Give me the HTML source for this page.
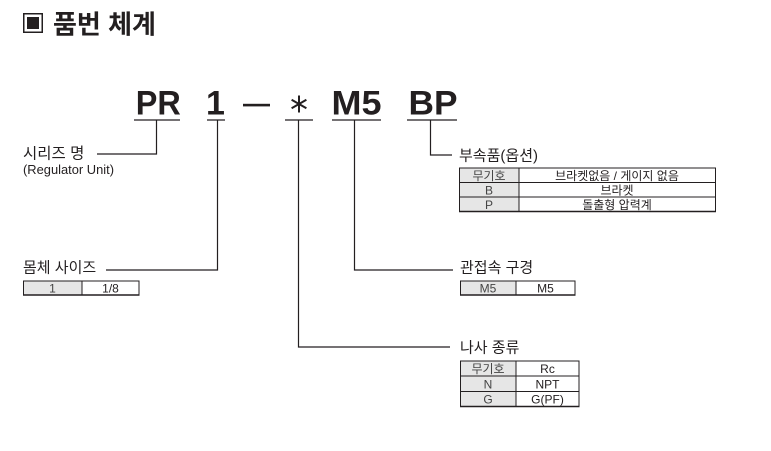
<!DOCTYPE html>
<html><head><meta charset="utf-8">
<style>
html,body{margin:0;padding:0;background:#fff;}
svg{display:block;}
.k{font-family:"Liberation Sans","Noto Sans CJK KR",sans-serif;fill:#231f20;}
.b{font-family:"Liberation Sans",Arial,sans-serif;font-weight:bold;fill:#231f20;font-size:34px;}
.t{font-family:"Liberation Sans","Noto Sans CJK KR",sans-serif;fill:#231f20;font-size:12px;}
.tg{font-family:"Liberation Sans","Noto Sans CJK KR",sans-serif;fill:#444;font-size:12px;}
</style></head>
<body>
<svg width="771" height="451" viewBox="0 0 771 451" xmlns="http://www.w3.org/2000/svg">
<rect width="771" height="451" fill="#fff"/>
<!-- title -->
<rect x="23.75" y="13.75" width="18.5" height="18.5" fill="none" stroke="#231f20" stroke-width="1.5"/>
<rect x="27" y="17" width="12" height="12" fill="#231f20"/>
<text x="53" y="33.5" class="k" style="font-size:26px;font-weight:bold">품번 체계</text>

<!-- big code -->
<text x="158.3" y="114.5" class="b" text-anchor="middle" textLength="45" lengthAdjust="spacingAndGlyphs">PR</text>
<text x="215.5" y="114.5" class="b" text-anchor="middle">1</text>
<rect x="243" y="103.8" width="27" height="2.6" fill="#231f20"/>
<g stroke="#231f20" stroke-width="2" stroke-linecap="butt">
<line x1="299" y1="95.5" x2="299" y2="112.5"/>
<line x1="291.6" y1="99.75" x2="306.4" y2="108.25"/>
<line x1="291.6" y1="108.25" x2="306.4" y2="99.75"/>
</g>
<text x="356.5" y="114.5" class="b" text-anchor="middle" textLength="50" lengthAdjust="spacingAndGlyphs">M5</text>
<text x="433" y="114.5" class="b" text-anchor="middle" textLength="49" lengthAdjust="spacingAndGlyphs">BP</text>

<!-- underlines and connectors -->
<g stroke="#231f20" stroke-width="1.2" fill="none">
<line x1="134" y1="120" x2="180" y2="120"/>
<line x1="207" y1="120" x2="225" y2="120"/>
<line x1="285" y1="120" x2="313" y2="120"/>
<line x1="332" y1="120" x2="381" y2="120"/>
<line x1="407" y1="120" x2="457" y2="120"/>
<polyline points="156.5,120 156.5,154 97,154"/>
<polyline points="217.5,120 217.5,270 106,270"/>
<polyline points="298.5,120 298.5,347 450,347"/>
<polyline points="354.5,120 354.5,270 453,270"/>
<polyline points="430.5,120 430.5,155 452,155"/>
</g>

<!-- labels -->
<text x="23" y="158.5" class="k" style="font-size:15.5px">시리즈 명</text>
<text x="23" y="174" class="k" style="font-size:12.5px" textLength="91" lengthAdjust="spacingAndGlyphs">(Regulator Unit)</text>
<text x="23" y="272.5" class="k" style="font-size:15px">몸체 사이즈</text>
<text x="459" y="160.5" class="k" style="font-size:15px">부속품(옵션)</text>
<text x="460" y="272.5" class="k" style="font-size:15px">관접속 구경</text>
<text x="460" y="352.5" class="k" style="font-size:15px">나사 종류</text>

<!-- table 몸체 -->
<rect x="23.5" y="281" width="58.5" height="14" fill="#e6e6e6"/>
<g stroke="#231f20" fill="none" stroke-width="1">
<rect x="23.5" y="281" width="115.5" height="14"/>
<line x1="82" y1="281" x2="82" y2="295"/>
<line x1="23" y1="295" x2="139.5" y2="295" stroke-width="1.6"/>
</g>
<text x="52.5" y="292.5" class="tg" text-anchor="middle">1</text>
<text x="110.5" y="292.5" class="t" text-anchor="middle">1/8</text>

<!-- table 부속품 -->
<rect x="459.5" y="168" width="59.5" height="43.5" fill="#e6e6e6"/>
<g stroke="#231f20" fill="none" stroke-width="1">
<rect x="459.5" y="168" width="256" height="43.5"/>
<line x1="519" y1="168" x2="519" y2="211.5"/>
<line x1="459.5" y1="182.5" x2="715.5" y2="182.5"/>
<line x1="459.5" y1="197" x2="715.5" y2="197"/>
<line x1="459" y1="211.5" x2="716" y2="211.5" stroke-width="1.6"/>
</g>
<text x="489" y="180" class="tg" text-anchor="middle">무기호</text>
<text x="617" y="180" class="t" text-anchor="middle">브라켓없음 / 게이지 없음</text>
<text x="489" y="194.5" class="tg" text-anchor="middle">B</text>
<text x="617" y="194.5" class="t" text-anchor="middle">브라켓</text>
<text x="489" y="209" class="tg" text-anchor="middle">P</text>
<text x="617" y="209" class="t" text-anchor="middle">돌출형 압력계</text>

<!-- table 관접속 -->
<rect x="460.5" y="281" width="55.5" height="14" fill="#e6e6e6"/>
<g stroke="#231f20" fill="none" stroke-width="1">
<rect x="460.5" y="281" width="114.5" height="14"/>
<line x1="516" y1="281" x2="516" y2="295"/>
<line x1="460" y1="295" x2="575.5" y2="295" stroke-width="1.6"/>
</g>
<text x="488" y="292.5" class="tg" text-anchor="middle">M5</text>
<text x="545.5" y="292.5" class="t" text-anchor="middle">M5</text>

<!-- table 나사 -->
<rect x="460.5" y="361" width="55.5" height="45.5" fill="#e6e6e6"/>
<g stroke="#231f20" fill="none" stroke-width="1">
<rect x="460.5" y="361" width="118.5" height="45.5"/>
<line x1="516" y1="361" x2="516" y2="406.5"/>
<line x1="460.5" y1="376" x2="579" y2="376"/>
<line x1="460.5" y1="391.5" x2="579" y2="391.5"/>
<line x1="460" y1="406.5" x2="579.5" y2="406.5" stroke-width="1.6"/>
</g>
<text x="488" y="373" class="tg" text-anchor="middle">무기호</text>
<text x="547.5" y="373" class="t" text-anchor="middle">Rc</text>
<text x="488" y="388.5" class="tg" text-anchor="middle">N</text>
<text x="547.5" y="388.5" class="t" text-anchor="middle">NPT</text>
<text x="488" y="403.5" class="tg" text-anchor="middle">G</text>
<text x="547.5" y="403.5" class="t" text-anchor="middle">G(PF)</text>
</svg>
</body></html>
